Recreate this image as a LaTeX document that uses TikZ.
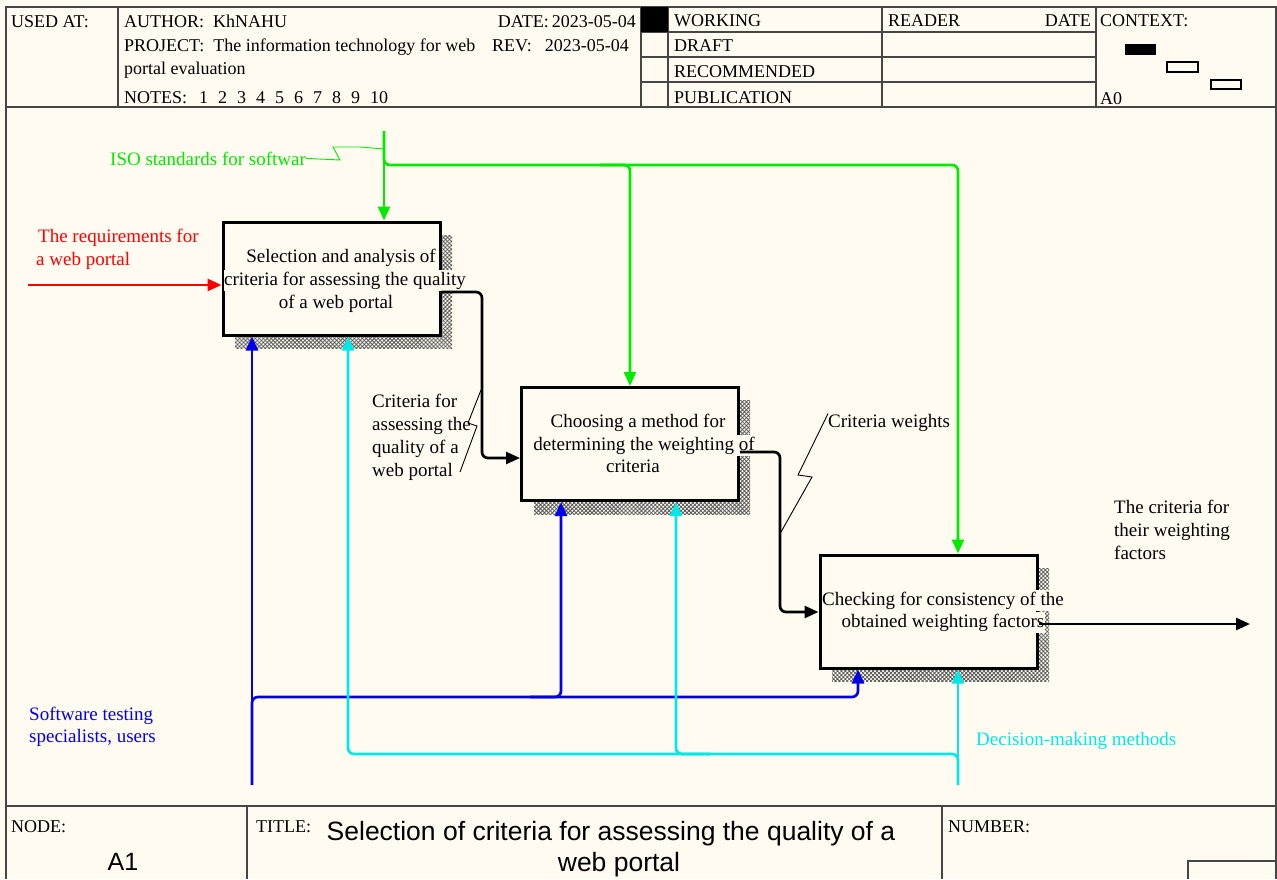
\documentclass[tikz,border=0pt]{standalone}
\usepackage{fontspec}
\setmainfont{Liberation Serif}
\newfontfamily\titlesans{Liberation Sans}
\usetikzlibrary{arrows.meta,calc,patterns.meta}

\definecolor{paper}{RGB}{255,251,240}
\definecolor{rulegray}{RGB}{70,70,70}
\definecolor{ctlgreen}{RGB}{0,235,0}
\definecolor{mchblue}{RGB}{0,0,235}
\definecolor{mchcyan}{RGB}{0,232,232}
\definecolor{inred}{RGB}{255,0,0}

\newcommand\hdrfont{\fontsize{18}{22}\selectfont}
\newcommand\dgmfont{\fontsize{19}{23}\selectfont}
\newcommand\ttlfont{\titlesans\fontsize{26.5}{31}\selectfont}
\newcommand\nodeidfont{\titlesans\fontsize{25}{31}\selectfont}

\tikzset{
  hdr/.style={font=\hdrfont, inner sep=0pt, anchor=base west},
  lbl/.style={font=\dgmfont, inner sep=0pt, anchor=base west},
  fnbox/.style={draw=black, line width=3pt, fill=paper,
    minimum width=217pt, minimum height=113pt, inner sep=0pt},
  fnline/.style={font=\dgmfont, fill=paper, inner xsep=0.5pt, inner ysep=1.5pt, anchor=base},
  boxshade/.style={pattern={Hatch[angle=45,distance=2.8pt,line width=0.8pt]},
    pattern color=black!65},
  rule/.style={draw=rulegray, line width=1.4pt},
  arr/.style={line width=2.7pt, rounded corners=6pt, -{Triangle[length=14pt,width=12pt]}},
  ctl/.style={arr, draw=ctlgreen},
  mch/.style={arr, draw=mchblue},
  mcc/.style={arr, draw=mchcyan},
  inp/.style={arr, draw=inred},
  flow/.style={arr, draw=black},
  tie/.style={line width=0.9pt}
}

\begin{document}
\begin{tikzpicture}[x=1pt,y=-1pt]
\useasboundingbox (0,0) rectangle (1277,879);
\fill[paper] (0,0) rectangle (1277,879);

% ---------- form frame ----------
\draw[rule] (6,879) -- (6,7) -- (1276,7) -- (1276,879);
\draw[rule] (6,107) -- (1276,107);
\foreach \xx in {118,641,668,882,1096} \draw[rule] (\xx,7) -- (\xx,107);
\foreach \yy in {32,57,82} \draw[rule] (641,\yy) -- (1096,\yy);
\fill[black] (641,7) rectangle (668,32);

% header texts
\node[hdr] (usedat) at (11,27) {USED AT:};
\node[hdr] (author) at (124,27) {AUTHOR:\ \ KhNAHU};
\node[hdr, anchor=base east] (date) at (636,27) {DATE:\,2023-05-04};
\node[hdr] (project) at (124,51) {PROJECT:\ \ The information technology for web};
\node[hdr] (rev) at (492,51) {REV:\hspace{13pt}2023-05-04};
\node[hdr] (portal) at (124,74) {portal evaluation};
\node[hdr] (notes) at (124,103) {NOTES:\hspace{12pt}1\hspace{10pt}2\hspace{10pt}3\hspace{10pt}4\hspace{10pt}5\hspace{10pt}6\hspace{10pt}7\hspace{10pt}8\hspace{10pt}9\hspace{10pt}10};
\node[hdr] (working) at (674,26) {WORKING};
\node[hdr] (draft) at (674,51) {DRAFT};
\node[hdr] (recomm) at (674,77) {RECOMMENDED};
\node[hdr] (public) at (674,103) {PUBLICATION};
\node[hdr] (reader) at (888,26) {READER};
\node[hdr, anchor=base east] (rdate) at (1091,26) {DATE};
\node[hdr] (context) at (1100,26) {CONTEXT:};
\node[hdr] (ctxnode) at (1100,104) {A0};
\fill[black] (1125,44) rectangle (1156,55);
\draw[line width=1.1pt] (1167,62) rectangle (1198,72);
\draw[line width=1.1pt] (1211,80) rectangle (1241,89);

% footer
\draw[rule] (6,806) -- (1276,806);
\draw[rule] (247,806) -- (247,879);
\draw[rule] (942,806) -- (942,879);
\draw[rule] (1188,879) -- (1188,861) -- (1276,861);
\node[hdr] (nodelbl) at (11,832) {NODE:};
\node[font=\nodeidfont, inner sep=0pt, anchor=base] (nodeid) at (123,870) {A1};
\node[hdr] (titlelbl) at (256,832) {TITLE:};
\node[font=\ttlfont, inner sep=0pt, anchor=base] (titleA) at (611,840) {Selection of criteria for assessing the quality of a};
\node[font=\ttlfont, inner sep=0pt, anchor=base] (titleB) at (619,871) {web portal};
\node[hdr] (numberlbl) at (948,832) {NUMBER:};

% ---------- activity boxes ----------
\fill[boxshade] (235,235) rectangle (452,348);
\fill[boxshade] (534,400) rectangle (750,514);
\fill[boxshade] (832,568) rectangle (1049,681);
\node[fnbox] (B1) at (331.5,278.5) {};
\node[fnbox] (B2) at (630,444) {};
\node[fnbox] (B3) at (928.5,611.5) {};

\node[fnline] (b1a) at (341,262) {Selection and analysis of};
\node[fnline] (b1b) at (345,285) {criteria for assessing the quality};
\node[fnline] (b1c) at (336,308) {of a web portal};
\node[fnline] (b2a) at (638,427) {Choosing a method for};
\node[fnline] (b2b) at (644,450) {determining the weighting of};
\node[fnline] (b2c) at (633,472) {criteria};
\node[fnline] (b3a) at (943,605) {Checking for consistency of the};
\node[fnline] (b3b) at (943,627) {obtained weighting factors};

% ---------- arrow anchor points ----------
\coordinate (gTop) at (384,131);
\coordinate (g3) at (958,165);
\coordinate (g2s) at (600,165);
\coordinate (g2) at (630,165);
\coordinate (bBot) at (252,785);
\coordinate (b3) at (858,697);
\coordinate (b2s) at (530,697);
\coordinate (b2) at (561,697);
\coordinate (cBot) at (958,785);
\coordinate (c1) at (348,754);
\coordinate (c2s) at (710,754);
\coordinate (c2) at (676,754);
\coordinate (rIn) at (28,285);
\coordinate (k1) at (482,292);
\coordinate (k1b) at (482,458);
\coordinate (k2) at (780,452);
\coordinate (k2b) at (780,612);
\coordinate (out) at (1250,624);

% controls
\draw[ctl] (gTop) -- (B1.north -| gTop);
\draw[ctl] (gTop) |- (g3) -- (B3.north -| g3);
\draw[ctl] (g2s) -| (B2.north -| g2);
% mechanisms
\draw[mch] (bBot) -- (B1.south -| bBot);
\draw[mch] (bBot) |- (b3) -- (B3.south -| b3);
\draw[mch] (b2s) -| (B2.south -| b2);
\draw[mcc] (cBot) -- (B3.south -| cBot);
\draw[mcc] (cBot) |- (c1) -- (B1.south -| c1);
\draw[mcc] (c2s) -| (B2.south -| c2);
% input and outputs
\draw[inp] (rIn) -- (B1.west |- rIn);
\draw[flow] (B1.east |- k1) -- (k1) -- (k1b) -- (B2.west |- k1b);
\draw[flow] (B2.east |- k2) -- (k2) -- (k2b) -- (B3.west |- k2b);
\draw[flow] (B3.east |- out) -- (out);

% ---------- arrow labels ----------
\node[lbl, text=ctlgreen] (iso) at (110,165) {ISO standards for softwar};
\node[lbl, text=inred] (reqA) at (38,242) {The requirements for};
\node[lbl, text=inred] (reqB) at (36,265) {a web portal};
\node[lbl] (crA) at (372,407) {Criteria for};
\node[lbl] (crB) at (372,430) {assessing the};
\node[lbl] (crC) at (372,453) {quality of a};
\node[lbl] (crD) at (372,476) {web portal};
\node[lbl] (cw) at (828,427) {Criteria weights};
\node[lbl] (outA) at (1114,513) {The criteria for};
\node[lbl] (outB) at (1114,536) {their weighting};
\node[lbl] (outC) at (1114,559) {factors};
\node[lbl, text=mchblue] (swA) at (29,720) {Software testing};
\node[lbl, text=mchblue] (swB) at (29,742) {specialists, users};
\node[lbl, text=mchcyan] (dm) at (976,745) {Decision-making methods};

% label ties
\coordinate (t1) at (481,390);
\coordinate (t2) at (460,472);
\coordinate (t3) at (781,532);
\coordinate (t4) at (384,149);
\draw[tie, ctlgreen] (iso.east) -- (340,160) -- (333,147) -- (360,147) -- (t4);
\draw[tie] (t1) -- (468,423) -- (477,426) -- (t2);
\draw[tie] (cw.north west) -- (798,475) -- (812,477) -- (t3);
\end{tikzpicture}
\end{document}
